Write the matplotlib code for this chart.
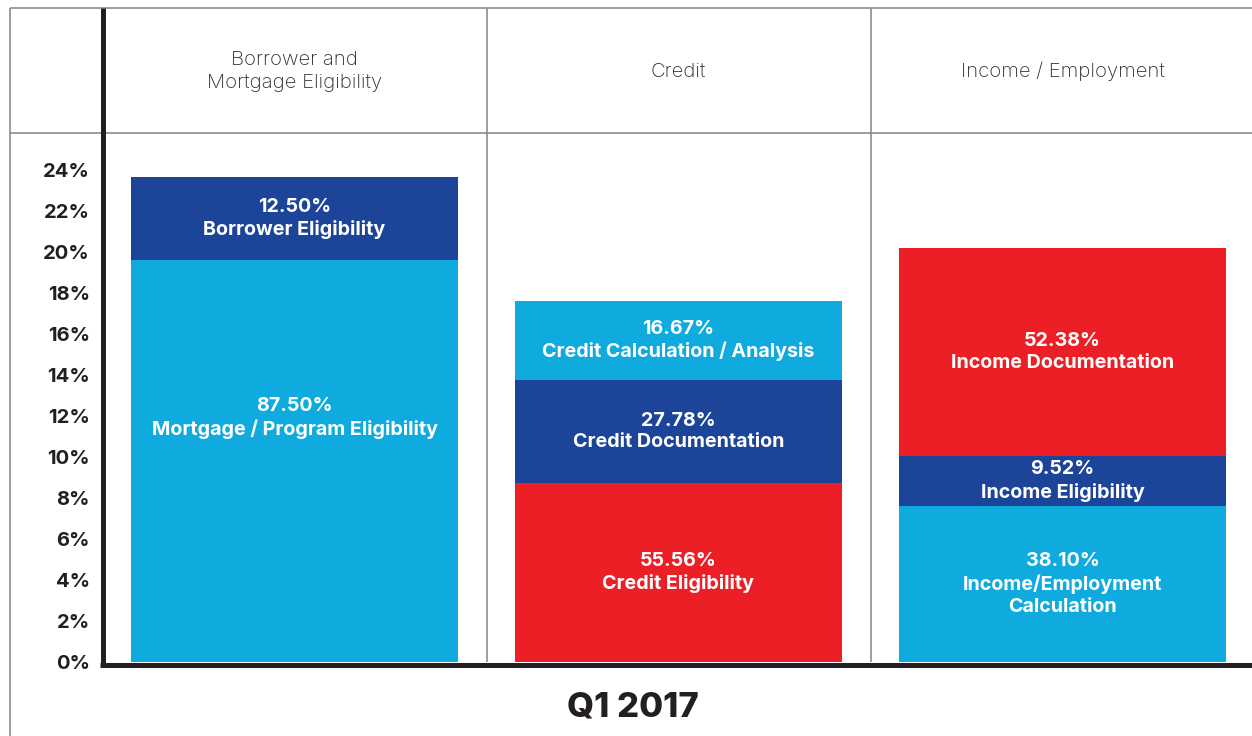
import matplotlib
matplotlib.use("Agg")
import matplotlib.pyplot as plt
from matplotlib.lines import Line2D

# data: segments listed bottom to top, heights in % of loans
categories = ["Borrower and\nMortgage Eligibility", "Credit", "Income / Employment"]

borrower_heights = [19.6, 4.05]
borrower_shares = ["87.50%", "12.50%"]
borrower_names = ["Mortgage / Program Eligibility", "Borrower Eligibility"]

credit_heights = [8.73, 5.03, 3.85]
credit_shares = ["55.56%", "27.78%", "16.67%"]
credit_names = ["Credit Eligibility", "Credit Documentation", "Credit Calculation / Analysis"]

income_heights = [7.61, 2.44, 10.15]
income_shares = ["38.10%", "9.52%", "52.38%"]
income_names = ["Income/Employment\nCalculation", "Income Eligibility", "Income Documentation"]

yticks = list(range(0, 25, 2))
period = "Q1 2017"

LIGHT = "#10ABDE"
DARK = "#1C4599"
RED = "#EC1F27"
INK = "#231F20"
GRID = "#8C8C8C"

stacks = [
    (borrower_heights, borrower_shares, borrower_names, [LIGHT, DARK]),
    (credit_heights, credit_shares, credit_names, [RED, DARK, LIGHT]),
    (income_heights, income_shares, income_names, [LIGHT, DARK, RED]),
]
# label y overrides (data units), None = middle of segment
label_y = [[11.9, None], [None, None, None], [None, None, None]]

plt.rcParams["font.family"] = ["Inter", "DejaVu Sans"]

W, H = 1252, 736
fig = plt.figure(figsize=(W / 100, H / 100), dpi=100)


def fx(x):
    return x / W


def fy(y):
    return 1 - y / H


def fig_line(x0, y0, x1, y1, color, lw):
    fig.add_artist(Line2D([fx(x0), fx(x1)], [fy(y0), fy(y1)], color=color,
                          lw=lw, transform=fig.transFigure, solid_capstyle="butt"))


ax_left, ax_right, ax_top, ax_bottom = 102.5, 1252, 133, 662
ax = fig.add_axes([fx(ax_left), fy(ax_bottom), fx(ax_right - ax_left), (ax_bottom - ax_top) / H])
col_px = 384
ax.set_xlim(-0.5, -0.5 + (ax_right - ax_left) / col_px)
ax.set_ylim(0, (ax_bottom - ax_top) / 20.5)

bar_w = 327 / col_px
for i, (heights, shares, names, colors) in enumerate(stacks):
    bottom = 0
    for j, h in enumerate(heights):
        ax.bar(i, h, bottom=bottom, width=bar_w, color=colors[j], linewidth=0)
        y = label_y[i][j] if label_y[i][j] is not None else bottom + h / 2
        ax.text(i, y, f"{shares[j]}\n{names[j]}", ha="center", va="center",
                color="white", fontsize=14.2, fontweight="bold", linespacing=1.28)
        bottom += h

ax.set_yticks(yticks)
ax.set_yticklabels([f"{v}%" for v in yticks], fontsize=14.5, fontweight="bold", color=INK)
ax.tick_params(axis="y", length=0, pad=9)
ax.set_xticks([])
for s in ax.spines.values():
    s.set_visible(False)

# grid frame
fig_line(9.5, 7.5, W, 7.5, GRID, 1.2)
fig_line(9.5, 133, W, 133, GRID, 1.2)
fig_line(9.5, 7.5, 9.5, H, GRID, 1.2)
for xc in (487, 871):
    fig_line(xc, 7.5, xc, 662, GRID, 1.2)

# thick axis lines
fig_line(102.5, 7.5, 102.5, 667, INK, 3.6)
fig_line(100, 664.5, W, 664.5, INK, 3.6)

# column headers
for i, cat in enumerate(categories):
    fig.text(fx(294.5 + i * col_px), fy(71.5), cat, ha="center", va="center",
             fontsize=14.6, fontweight="light", color="#2E2E2E", linespacing=1.4)

fig.text(fx(633), fy(707), period, ha="center", va="center", fontsize=25,
         fontweight="heavy", color=INK)

fig.savefig("out.png", dpi=100)
